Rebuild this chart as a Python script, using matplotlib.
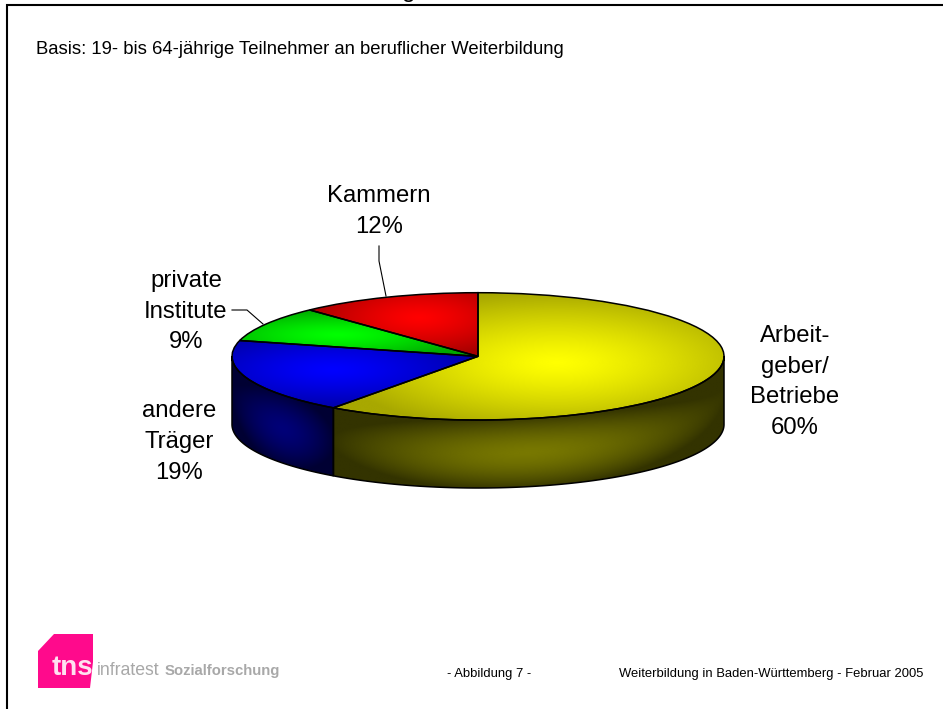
import numpy as np
import matplotlib
matplotlib.use("Agg")
import matplotlib.pyplot as plt
from matplotlib.colors import LinearSegmentedColormap
from matplotlib.patches import Polygon

categories = ["Arbeit-\ngeber/\nBetriebe", "andere\nTräger", "private\nInstitute", "Kammern"]
shares = [60, 19, 9, 12]
share_labels = ["60%", "19%", "9%", "12%"]
base_colors = [(1, 1, 0), (0, 0, 1), (0, 1, 0), (1, 0, 0)]

W, H = 943, 709
plt.rcParams["font.family"] = ["Liberation Sans", "DejaVu Sans"]
fig = plt.figure(figsize=(W / 100, H / 100), dpi=100, facecolor="white")

# pixel overlay for text, frame, logo
ov = fig.add_axes([0, 0, 1, 1], zorder=3)
ov.set_xlim(0, W)
ov.set_ylim(H, 0)
ov.axis("off")
ov.patch.set_alpha(0)

# pie axes: unit circle squashed to the tilted ellipse, with room below for the rim
cx_l, cx_r, top, bot = 232, 724, 292.7, 420
RY = (bot - top) / 2
RX = (cx_r - cx_l) / 2
DEPTH = 68 / RY
M = 0.02
ylo = -1 - DEPTH - M
ax_left = cx_l - M * RX
ax_right = cx_r + M * RX
ax_top = top - M * RY
ax_bot = bot + (DEPTH + M) * RY
ax = fig.add_axes([ax_left / W, 1 - ax_bot / H, (ax_right - ax_left) / W, (ax_bot - ax_top) / H], zorder=2)
wedges, _ = ax.pie(shares, startangle=90, counterclock=False, radius=1,
                   colors=["none"] * 4, wedgeprops=dict(edgecolor="black", linewidth=1.1, facecolor="none"))
ax.set_aspect("auto")

n = 600
ext = (-1 - M, 1 + M, ylo, 1 + M)
xs = np.linspace(ext[0], ext[1], n)
ys = np.linspace(ext[2], ext[3], n)
X, Y = np.meshgrid(xs, ys)


def paint(d, color, lo, hi, power):
    level = hi + (lo - hi) * np.clip(d, 0, 1) ** power
    cmap = LinearSegmentedColormap.from_list("c", [(0, 0, 0), color])
    return ax.imshow(level, extent=ext, origin="lower", cmap=cmap, vmin=0, vmax=1,
                     aspect="auto", interpolation="bilinear", zorder=0.5)


fr = np.cumsum([0] + shares) / sum(shares)
for i, w in enumerate(wedges):
    a0 = 90 - 360 * fr[i]
    a1 = 90 - 360 * fr[i + 1]
    th = np.radians(np.linspace(a0, a1, 200))
    px = np.r_[0, np.cos(th)]
    py = np.r_[0, np.sin(th)]
    # sector centroid
    half_a = np.radians(a0 - a1) / 2
    mid_a = np.radians(a0 + a1) / 2
    r_c = 2 * np.sin(half_a) / (3 * half_a)
    c = np.array([r_c * np.cos(mid_a), r_c * np.sin(mid_a)])
    hw = np.abs(px - c[0]).max()
    hh = np.abs(py - c[1]).max()
    d = np.sqrt(((X - c[0]) / hw) ** 2 + ((Y - c[1]) / hh) ** 2)
    im = paint(d, base_colors[i], 0.66, 1.0, 1.3)
    im.set_clip_path(w)
    w.set_zorder(2)

    # side wall for the part of the rim facing the viewer
    lo_a, hi_a = max(a1, -180), min(a0, 0)
    if hi_a > lo_a:
        t = np.radians(np.linspace(hi_a, lo_a, 200))
        xr, yr = np.cos(t), np.sin(t)
        poly = Polygon(np.c_[np.r_[xr, xr[::-1]], np.r_[yr, yr[::-1] - DEPTH]], closed=True,
                       facecolor="none", edgecolor="black", linewidth=1.1, clip_on=False, zorder=1.5)
        ax.add_patch(poly)
        xmid = (xr.min() + xr.max()) / 2
        wall_hw = (xr.max() - xr.min()) / 2 * 1.02
        rim_y = -np.sqrt(np.clip(1 - X ** 2, 0, 1)) - DEPTH / 2
        d2 = np.sqrt(((X - xmid) / wall_hw) ** 2 + ((Y - rim_y) / (DEPTH / 2 * 1.1)) ** 2)
        im2 = paint(d2, base_colors[i], 0.2, 0.47, 1.6)
        im2.set_clip_path(poly)

ax.set_xlim(ext[0], ext[1])
ax.set_ylim(ext[2], ext[3])

# frame: only top and left rule
ov.plot([6.7, 6.7, W], [H, 4.7, 4.7], color="black", lw=1.5, solid_joinstyle="miter")
# descender of the clipped headline
ov.text(409, -3.5, "g", fontsize=17.5, ha="center", va="baseline", color="black")

ov.text(36, 49, "Basis: 19- bis 64-jährige Teilnehmer an beruflicher Weiterbildung",
        fontsize=13.3, va="center", ha="left")

# data labels
label_pos = [(795, 382), (179, 442), (186, 311.5), (379, 211.5)]
for cat, s, (x, y) in zip(categories, share_labels, label_pos):
    ov.text(x, y, cat + "\n" + s, fontsize=17.2, ha="center", va="center", linespacing=1.52, color="black")

# leaders
ov.plot([379, 379, 386], [246, 261, 296], color="black", lw=0.8)
ov.plot([232, 247, 263], [310, 310, 324], color="black", lw=0.8)

# logo
ov.add_patch(Polygon([(54, 634), (93, 634), (93, 662), (90, 688), (38, 688), (38, 651)],
                     closed=True, facecolor="#ff0a8c", edgecolor="none"))
ov.text(52, 675, "tns", fontsize=20, fontweight="bold", color="#ffe0f0", va="baseline", ha="left")
ov.text(97, 675, "infratest", fontsize=12.7, color="#a8a8a8", va="baseline", ha="left")
ov.text(165, 675, "Sozialforschung", fontsize=10.7, fontweight="bold", color="#a8a8a8", va="baseline", ha="left")

# footer
ov.text(489.5, 674, "- Abbildung 7 -", fontsize=9.4, ha="center", va="center")
ov.text(923, 674, "Weiterbildung in Baden-Württemberg - Februar 2005", fontsize=9.4, ha="right", va="center")

fig.savefig("out.png", dpi=100, facecolor="white")
